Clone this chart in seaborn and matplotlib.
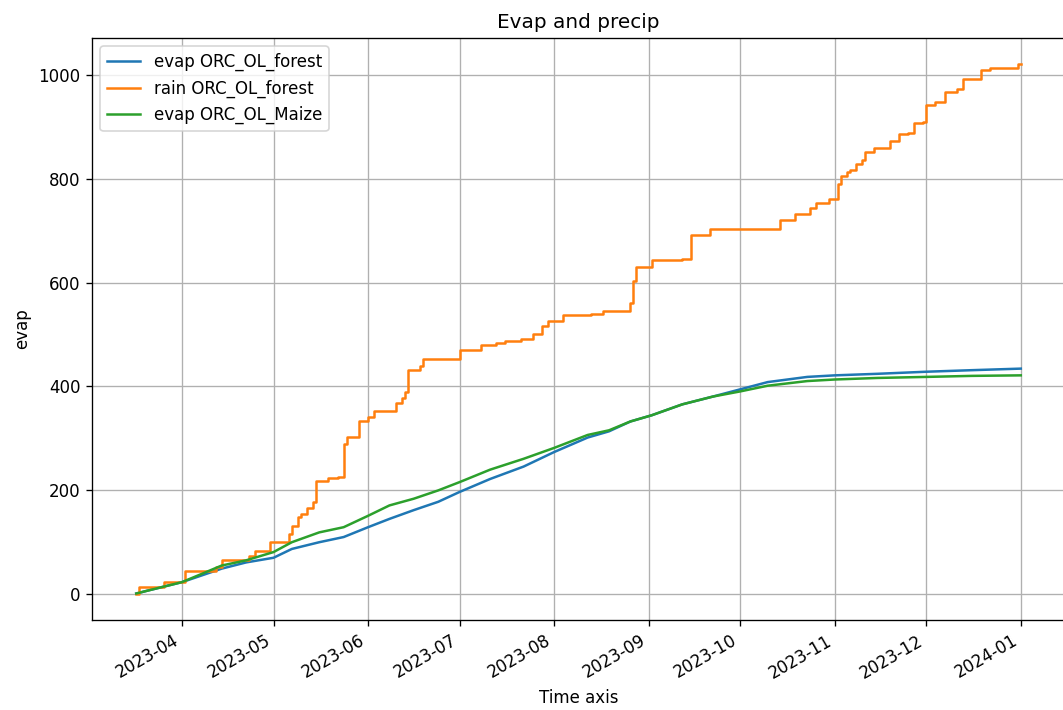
"""
Cumulative evaporation and rainfall, ORCHIDEE offline runs (forest vs maize).
"""

import matplotlib
matplotlib.use("Agg")
import matplotlib.dates as mdates
import matplotlib.pyplot as plt
import pandas as pd
import seaborn as sns

# cumulative evap sampling dates (both runs)
evap_dates = [
    "2023-03-17", "2023-03-21", "2023-04-01", "2023-04-14", "2023-04-22",
    "2023-05-01", "2023-05-07", "2023-05-16", "2023-05-24", "2023-06-01",
    "2023-06-08", "2023-06-16", "2023-06-24", "2023-07-01", "2023-07-11",
    "2023-07-22", "2023-08-01", "2023-08-12", "2023-08-19", "2023-08-26",
    "2023-09-02", "2023-09-12", "2023-09-22", "2023-10-01", "2023-10-10",
    "2023-10-23", "2023-11-01", "2023-11-15", "2023-12-01", "2023-12-16",
    "2024-01-01",
]
# cumulative evap, forest run (mm)
evap_forest = [
    0, 6, 22, 48, 60, 69, 86, 99, 109, 128, 144, 161, 177, 196, 221,
    245, 273, 301, 313, 332, 344, 365, 380, 394, 408, 418, 421, 424, 428,
    431, 434,
]
# cumulative evap, maize run (mm)
evap_maize = [
    0, 6, 22, 54, 64, 80, 99, 118, 128, 150, 170, 183, 199, 215, 239,
    260, 281, 306, 315, 332, 344, 365, 380, 390, 401, 410, 413, 416, 418,
    420, 421,
]

# cumulative rain, forest run (mm), value holds until the next date
rain_dates = [
    "2023-03-17", "2023-03-18", "2023-03-26", "2023-04-02", "2023-04-12",
    "2023-04-14", "2023-04-23", "2023-04-25", "2023-04-30", "2023-05-06",
    "2023-05-07", "2023-05-09", "2023-05-10", "2023-05-12", "2023-05-14",
    "2023-05-15", "2023-05-19", "2023-05-22", "2023-05-24", "2023-05-25",
    "2023-05-29", "2023-06-01", "2023-06-03", "2023-06-10", "2023-06-12",
    "2023-06-13", "2023-06-14", "2023-06-18", "2023-06-19", "2023-07-01",
    "2023-07-08", "2023-07-13", "2023-07-16", "2023-07-21", "2023-07-25",
    "2023-07-28", "2023-07-30", "2023-08-04", "2023-08-13", "2023-08-17",
    "2023-08-26", "2023-08-27", "2023-08-28", "2023-09-02", "2023-09-12",
    "2023-09-15", "2023-09-21", "2023-10-14", "2023-10-19", "2023-10-24",
    "2023-10-26", "2023-10-30", "2023-11-02", "2023-11-03", "2023-11-05",
    "2023-11-06", "2023-11-08", "2023-11-10", "2023-11-11", "2023-11-14",
    "2023-11-19", "2023-11-22", "2023-11-25", "2023-11-27", "2023-11-30",
    "2023-12-01", "2023-12-04", "2023-12-07", "2023-12-11", "2023-12-13",
    "2023-12-19", "2023-12-22", "2023-12-31", "2024-01-01",
]
rain = [
    0, 12, 22, 43, 51, 65, 73, 83, 100, 115, 131, 147, 153, 165, 176,
    218, 222, 225, 289, 302, 333, 340, 353, 367, 378, 389, 432, 440, 453,
    470, 479, 483, 488, 491, 501, 517, 526, 537, 539, 545, 560, 604, 630,
    643, 646, 692, 704, 720, 732, 743, 754, 761, 791, 806, 813, 817, 829,
    837, 852, 860, 874, 887, 889, 908, 910, 942, 948, 967, 974, 992, 1011,
    1014, 1021, 1021,
]


def main():
    times = pd.to_datetime(evap_dates)
    df_ef = pd.DataFrame({"time": times, "val": evap_forest})
    df_rain = pd.DataFrame({"time": pd.to_datetime(rain_dates), "val": rain})
    df_em = pd.DataFrame({"time": times, "val": evap_maize})

    fig = plt.figure(figsize=(1063 / 120, 710 / 120), dpi=120)
    ax = fig.add_axes([0.0866, 0.1268, 0.9153, 0.8197])

    sns.lineplot(data=df_ef, x="time", y="val", ax=ax, color="C0",
                 estimator=None, label="evap ORC_OL_forest")
    sns.lineplot(data=df_rain, x="time", y="val", ax=ax, color="C1",
                 estimator=None, drawstyle="steps-post", label="rain ORC_OL_forest")
    sns.lineplot(data=df_em, x="time", y="val", ax=ax, color="C2",
                 estimator=None, label="evap ORC_OL_Maize")

    ax.xaxis.set_major_locator(mdates.MonthLocator())
    ax.xaxis.set_major_formatter(mdates.DateFormatter("%Y-%m"))
    plt.setp(ax.get_xticklabels(), rotation=30, ha="right")

    ax.grid(True)
    ax.set_xlabel("Time axis")
    ax.set_ylabel("evap")
    ax.set_title("Evap and precip")
    ax.legend(loc="upper left")

    fig.savefig("out.png", dpi=120)


if __name__ == "__main__":
    main()
